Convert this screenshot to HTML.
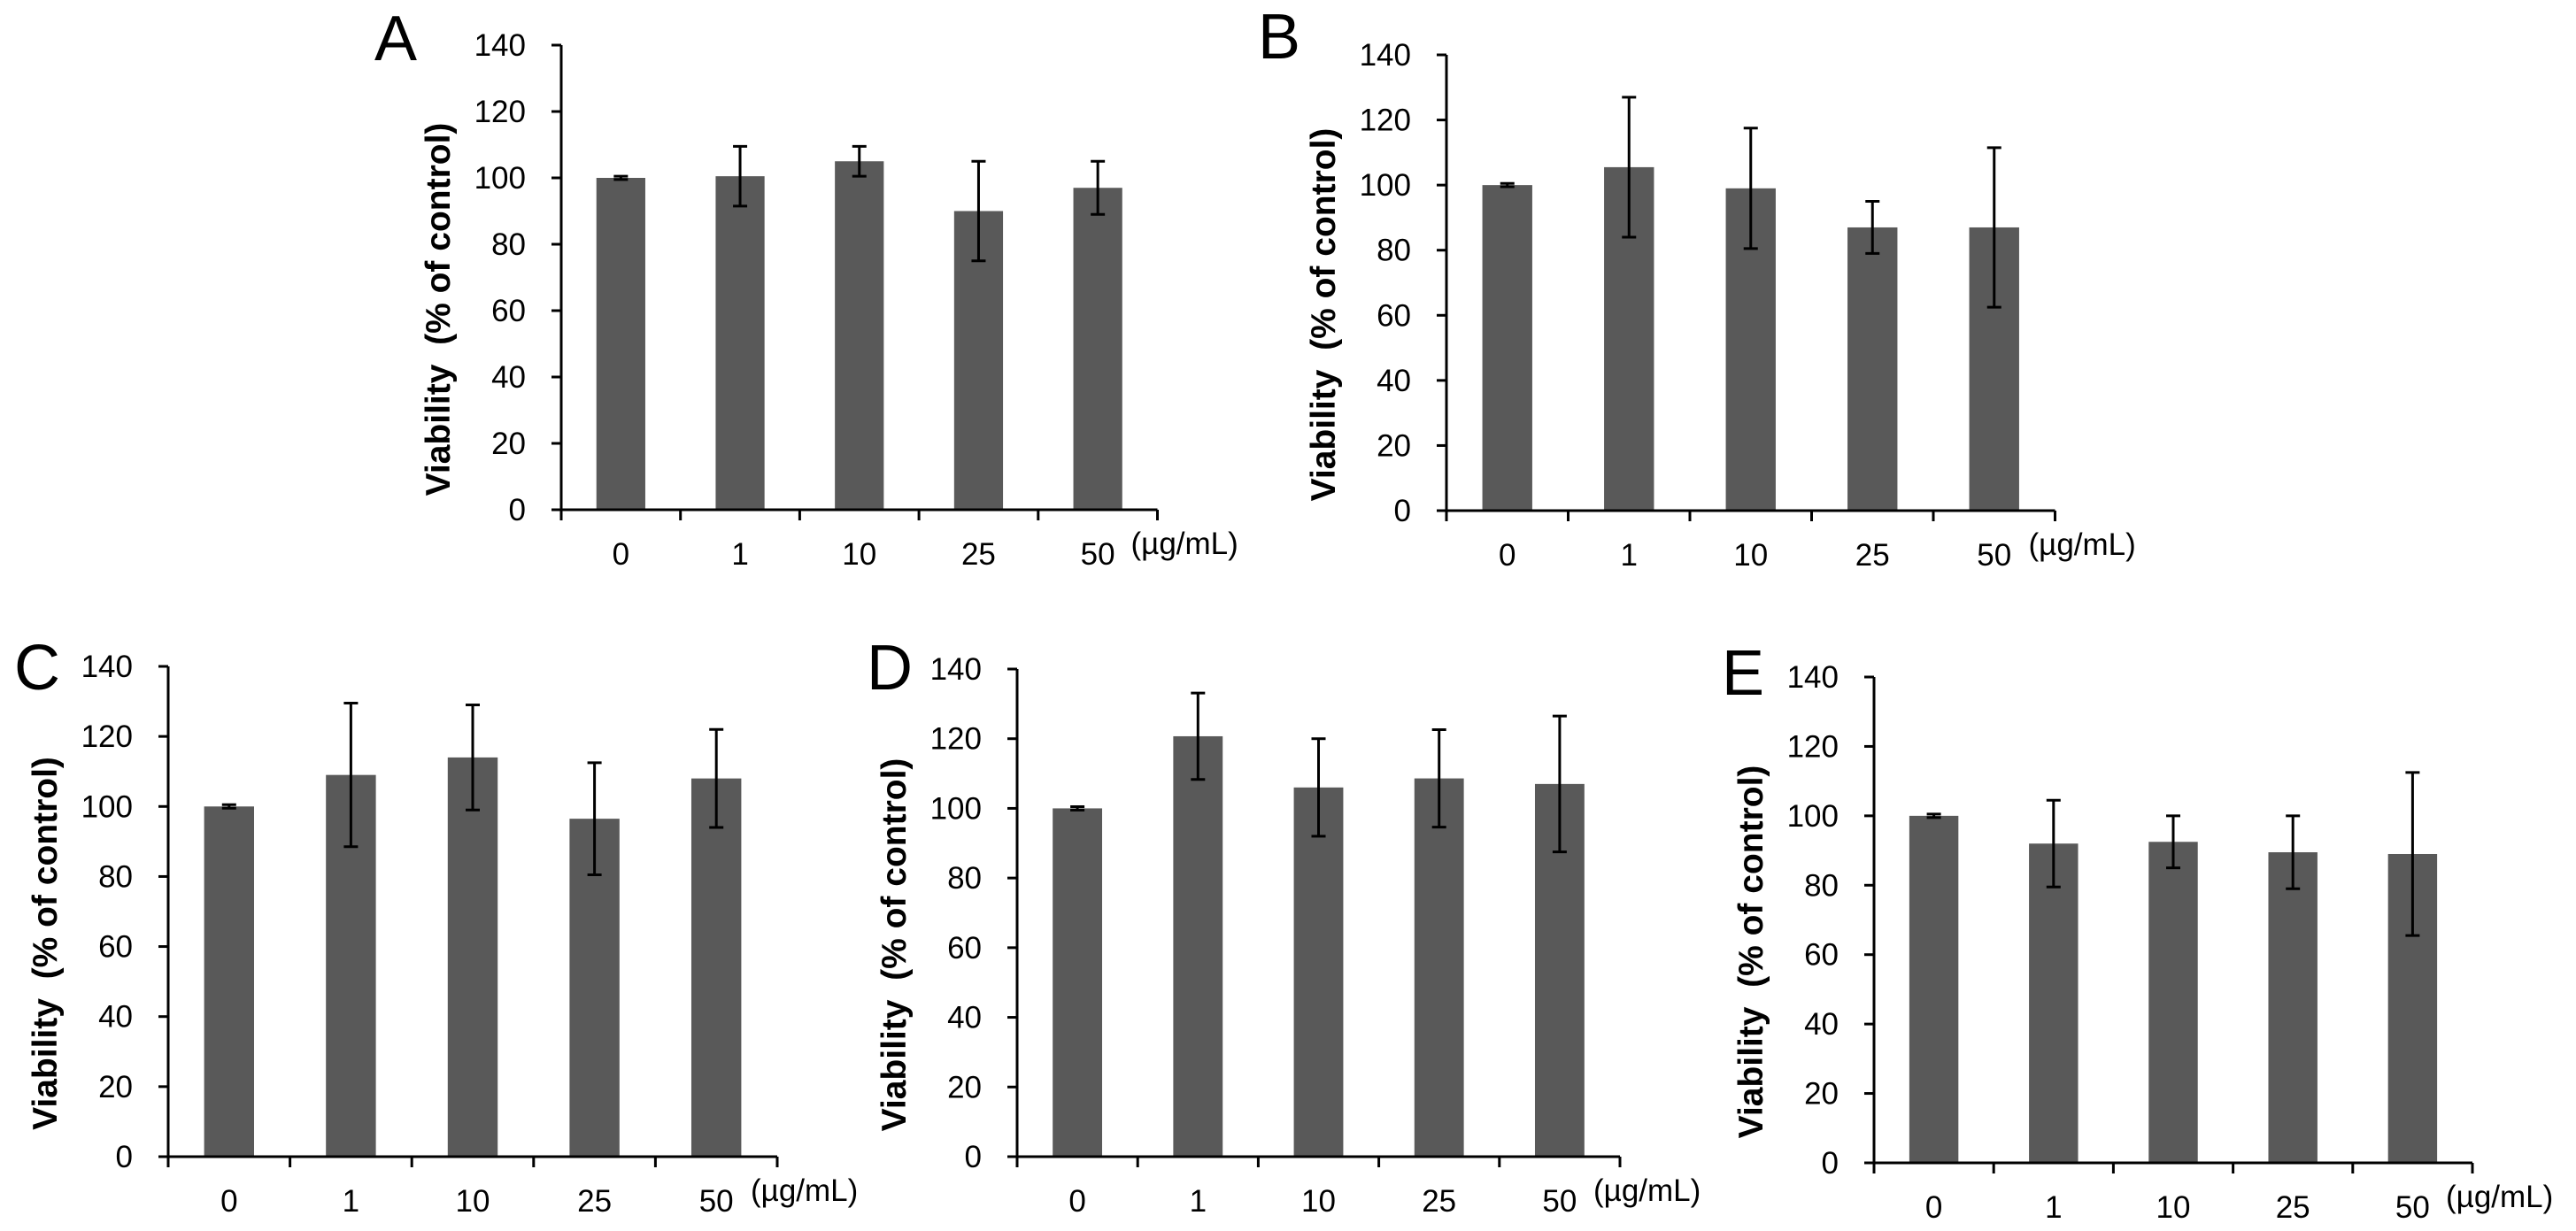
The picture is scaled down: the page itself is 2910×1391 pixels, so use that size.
<!DOCTYPE html>
<html><head><meta charset="utf-8">
<style>
html,body{margin:0;padding:0;background:#fff;}
svg{display:block;}
text{font-family:"Liberation Sans",Arial,sans-serif;fill:#000;}
</style></head>
<body>
<svg id="fig" width="2910" height="1391" viewBox="0 0 2910 1391" xmlns="http://www.w3.org/2000/svg"></svg>
<script>
const categories = ["0","1","10","25","50"];
const yTicks = [0,20,40,60,80,100,120,140];
const valuesA = [100,100.5,105,90,97];
const errorsA = [0.5,9,4.5,15,8];
const valuesB = [100,105.5,99,87,87];
const errorsB = [0.5,21.5,18.5,8,24.5];
const valuesC = [100,109,114,96.5,108];
const errorsC = [0.5,20.5,15,16,14];
const valuesD = [100,120.7,106,108.6,107];
const errorsD = [0.5,12.4,14,14,19.5];
const valuesE = [100,92,92.5,89.5,89];
const errorsE = [0.5,12.5,7.5,10.5,23.5];

const panels = [
  {id:"A", vals:valuesA, errs:errorsA, ax:634, top:51, bot:576, step:134.7, lx:423, ly:68},
  {id:"B", vals:valuesB, errs:errorsB, ax:1634, top:62, bot:577, step:137.5, lx:1421, ly:66},
  {id:"C", vals:valuesC, errs:errorsC, ax:190, top:753, bot:1307, step:137.6, lx:16, ly:779},
  {id:"D", vals:valuesD, errs:errorsD, ax:1149, top:756, bot:1307, step:136.2, lx:979, ly:779},
  {id:"E", vals:valuesE, errs:errorsE, ax:2117, top:765, bot:1314, step:135.2, lx:1945, ly:785}
];
const NS="http://www.w3.org/2000/svg";
const svg=document.getElementById('fig');
function mk(tag, attrs, parent){
  const e=document.createElementNS(NS,tag);
  for(const k in attrs) e.setAttribute(k, attrs[k]);
  parent.appendChild(e); return e;
}
panels.forEach(p=>{
  const g=mk('g',{},svg);
  
  
  const yMax=140;
  const yS=v=>p.bot-(v/yMax)*(p.bot-p.top);
  const xC=i=>p.ax+p.step*(i+0.5);
  const barW=p.step*0.41;
  const L=mk('text',{x:p.lx,y:p.ly,'font-size':72},g);
  
  
  L.textContent=p.id;
  p.vals.forEach((v,i)=>{
    const r=mk('rect',{x:xC(i)-barW/2,y:yS(v),width:barW,height:p.bot-yS(v),fill:'#595959'},g);
    
    
  });
  p.vals.forEach((v,i)=>{
    const e=p.errs[i], x=xC(i), y1=yS(v+e), y2=yS(v-e);
    const eg=mk('g',{stroke:'#000','stroke-width':3},g);
    
    
    mk('line',{x1:x,y1:y1,x2:x,y2:y2},eg);
    mk('line',{x1:x-8,y1:y1,x2:x+8,y2:y1},eg);
    mk('line',{x1:x-8,y1:y2,x2:x+8,y2:y2},eg);
  });
  const xEnd=p.ax+p.step*categories.length;
  const ya=mk('line',{x1:p.ax,y1:p.top,x2:p.ax,y2:p.bot+12,stroke:'#000','stroke-width':3},g);
  
  
  const xa=mk('line',{x1:p.ax-11,y1:p.bot,x2:xEnd,y2:p.bot,stroke:'#000','stroke-width':3},g);
  
  
  for(let i=1;i<=categories.length;i++){
    const xt=p.ax+p.step*i;
    mk('line',{x1:xt,y1:p.bot,x2:xt,y2:p.bot+12,stroke:'#000','stroke-width':3},g);
  }
  yTicks.forEach(t=>{
    const y=yS(t);
    mk('line',{x1:p.ax-11,y1:y,x2:p.ax,y2:y,stroke:'#000','stroke-width':3},g);
    const tl=mk('text',{x:p.ax-40,y:y+12,'font-size':35,'text-anchor':'end'},g);
    
    
    tl.textContent=t;
  });
  categories.forEach((c,i)=>{
    const tl=mk('text',{x:xC(i),y:p.bot+62,'font-size':35,'text-anchor':'middle'},g);
    
    
    tl.textContent=c;
  });
  const u=mk('text',{x:xEnd-30,y:p.bot+50,'font-size':35},g);
  
  
  u.textContent='(µg/mL)';
  const cy=(p.top+p.bot)/2+36, cx=p.ax-126;
  const yt=mk('text',{x:cx,y:cy,'font-size':39,'font-weight':'bold','text-anchor':'middle',style:'white-space:pre',transform:`rotate(-90 ${cx} ${cy})`},g);
  
  
  yt.textContent='Viability  (% of control)';
});
</script>
</body></html>
